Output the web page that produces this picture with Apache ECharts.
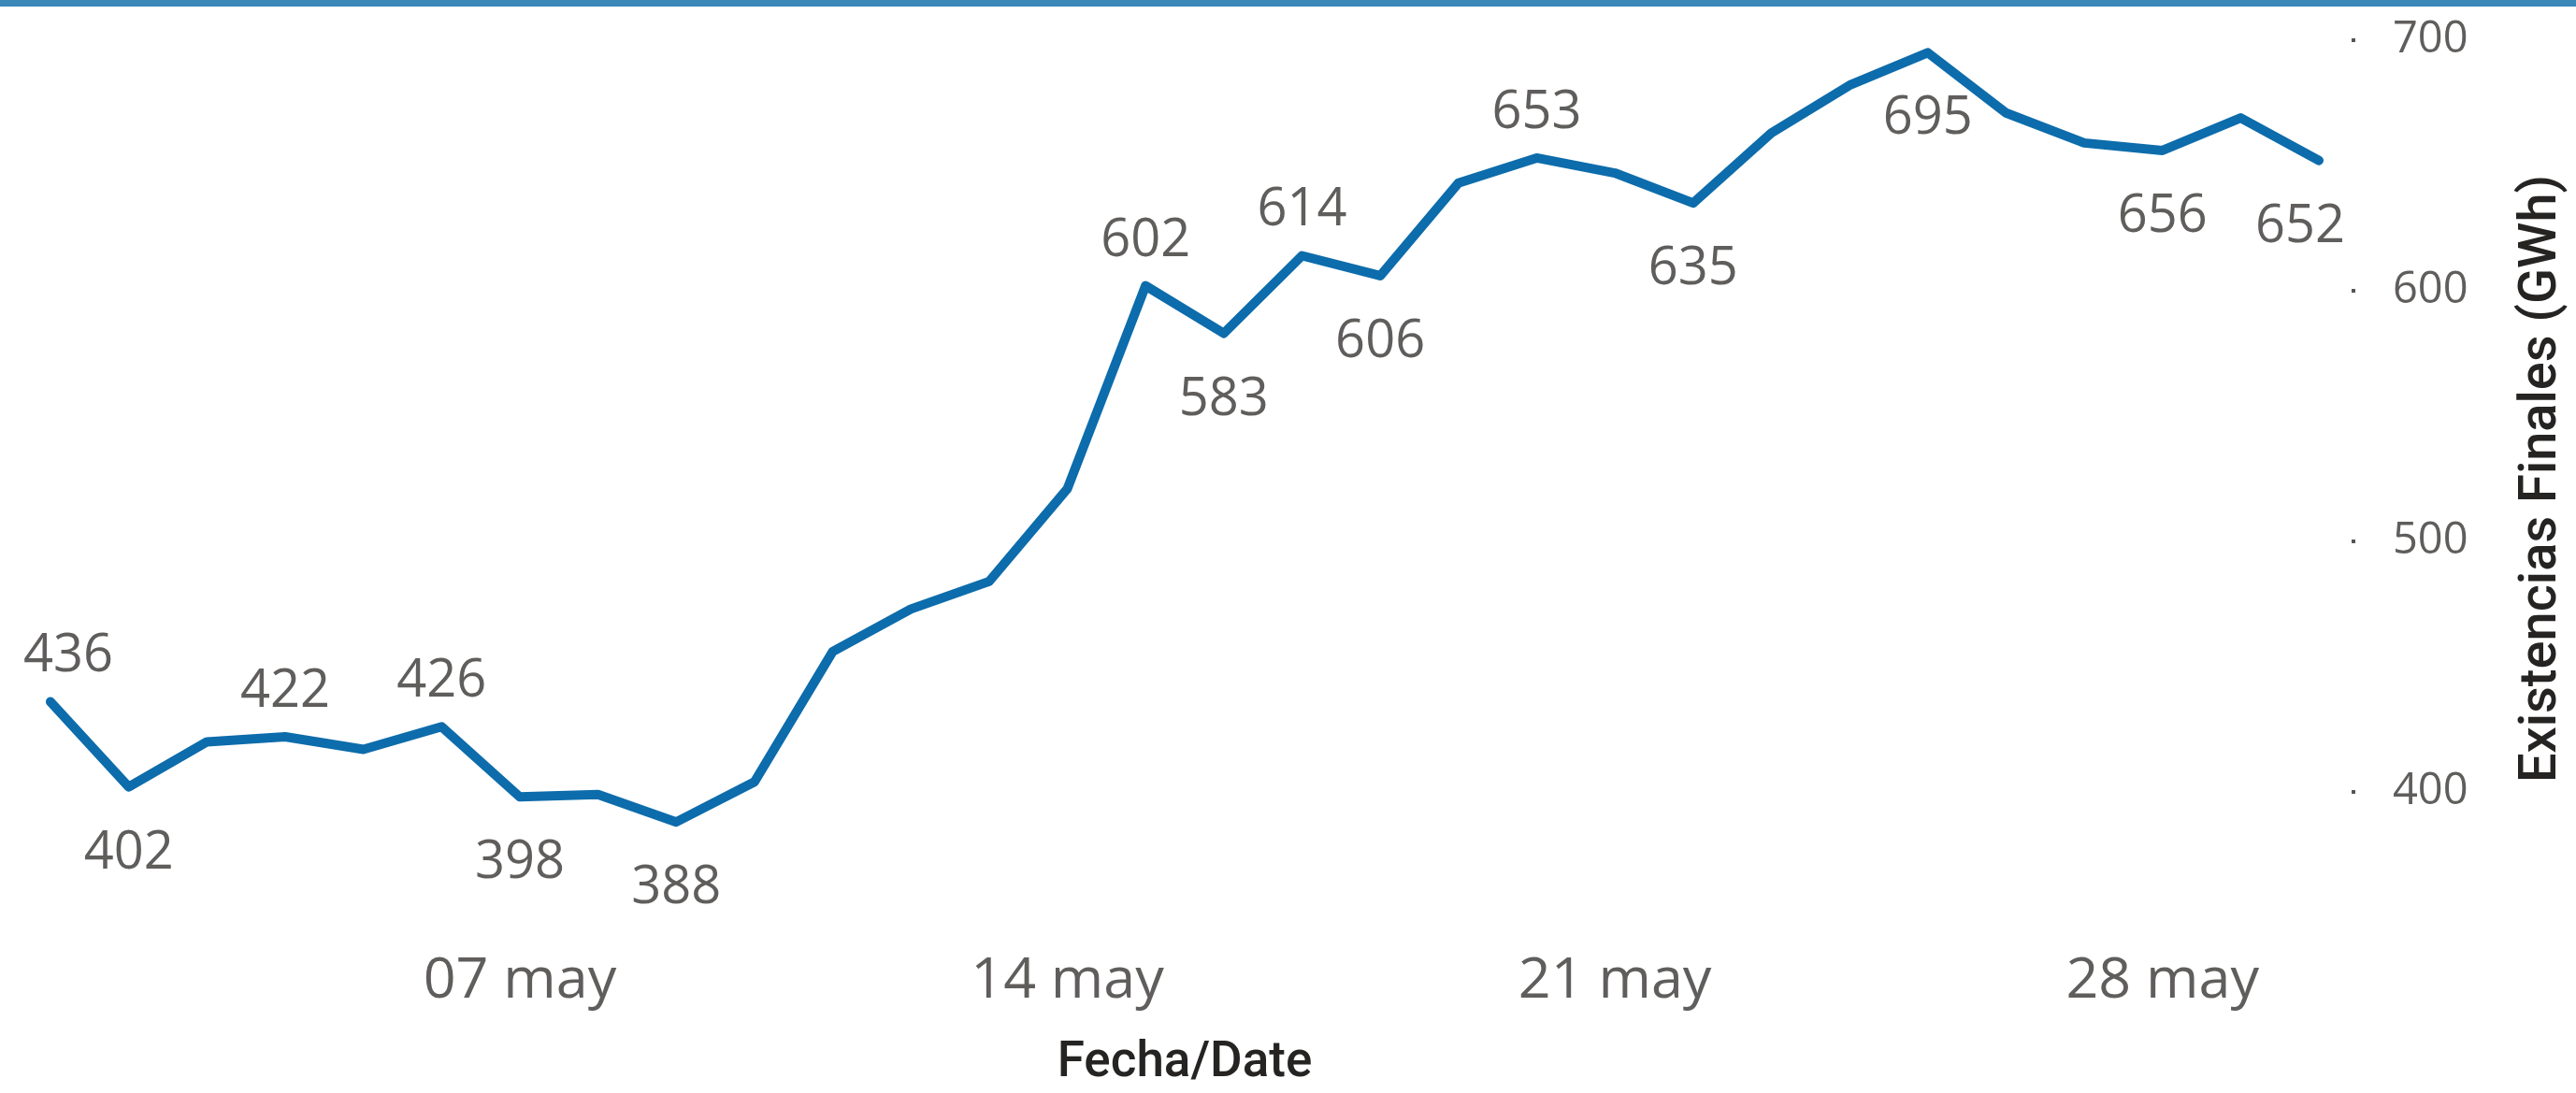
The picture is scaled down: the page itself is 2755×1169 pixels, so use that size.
<!DOCTYPE html>
<html>
<head>
<meta charset="utf-8">
<script src="https://cdn.jsdelivr.net/npm/echarts@6/dist/echarts.min.js"></script>
<style>
  html, body { margin: 0; padding: 0; background: #ffffff; }
  #chart { width: 2755px; height: 1169px; }
</style>
</head>
<body>
<div id="chart"></div>
<script>
// ---- Data ----
const dates = ['01 may','02 may','03 may','04 may','05 may','06 may','07 may','08 may','09 may','10 may',
               '11 may','12 may','13 may','14 may','15 may','16 may','17 may','18 may','19 may','20 may',
               '21 may','22 may','23 may','24 may','25 may','26 may','27 may','28 may','29 may','30 may'];
const existencias = [436,402,420,422,417,426,398,399,388,404,
                     456,473,484,521,602,583,614,606,643,653,
                     647,635,663,682,695,671,659,656,669,652];
const yTicks = [400, 500, 600, 700];
const xTickLabels = ['07 may','14 may','21 may','28 may'];
const labelledAbove = [0,3,5,14,16,19];
const labelledBelow = [1,6,8,15,17,21,24,27,29];

const labelFont = 'Open Sans';
const titleFont = 'Roboto';
const lastIndex = existencias.length - 1;

const seriesData = existencias.map((v, i) => {
  if (labelledAbove.includes(i)) {
    return { value: v, label: { show: true, position: 'top', distance: 19 } };
  }
  if (labelledBelow.includes(i)) {
    return { value: v, label: { show: true, position: 'bottom', distance: 42 } };
  }
  return { value: v };
});

const chart = echarts.init(document.getElementById('chart'), null, { renderer: 'canvas' });
chart.setOption({
  animation: false,
  backgroundColor: '#ffffff',
  graphic: [{
    type: 'rect', left: 0, top: 0, z: 10,
    shape: { width: 2755, height: 7 },
    style: { fill: '#3b88b9' }
  }],
  grid: { left: 54, right: 269, top: 43, bottom: 170.5, containLabel: false },
  xAxis: {
    type: 'category',
    data: dates,
    boundaryGap: false,
    axisLine: { show: false },
    axisTick: { show: false },
    splitLine: { show: false },
    axisLabel: {
      interval: (idx, val) => xTickLabels.includes(val),
      color: '#605e5c',
      fontFamily: labelFont,
      fontSize: 61,
      margin: 38
    },
    name: 'Fecha/Date',
    nameLocation: 'middle',
    nameGap: 130,
    nameTextStyle: { color: '#252423', fontFamily: titleFont, fontSize: 53, fontWeight: 500 }
  },
  yAxis: {
    type: 'value',
    position: 'right',
    offset: 35,
    min: 350,
    max: 700,
    axisLine: { show: false },
    splitLine: { show: false },
    axisTick: {
      show: true,
      customValues: yTicks,
      length: 4,
      lineStyle: { color: '#555555', width: 4 }
    },
    axisLabel: {
      customValues: yTicks,
      color: '#605e5c',
      fontFamily: labelFont,
      fontSize: 47,
      margin: 44
    },
    name: 'Existencias Finales (GWh)',
    nameLocation: 'middle',
    nameGap: 176,
    nameTextStyle: { color: '#252423', fontFamily: titleFont, fontSize: 56, fontWeight: 500 }
  },
  series: [{
    type: 'line',
    data: seriesData,
    symbol: 'circle',
    symbolSize: 2,
    showSymbol: true,
    itemStyle: { color: '#0d6cab' },
    lineStyle: { color: '#0d6cab', width: 10, cap: 'round', join: 'round' },
    label: {
      show: false,
      color: '#605e5c',
      fontFamily: labelFont,
      fontSize: 56
    },
    // end labels are nudged inward so they stay inside the plot, as in the original
    labelLayout: (p) => ({
      hideOverlap: false,
      dx: p.dataIndex === 0 ? 19 : (p.dataIndex === lastIndex ? -20 : 0)
    }),
    emphasis: { disabled: true },
    silent: true
  }]
});
</script>
</body>
</html>
